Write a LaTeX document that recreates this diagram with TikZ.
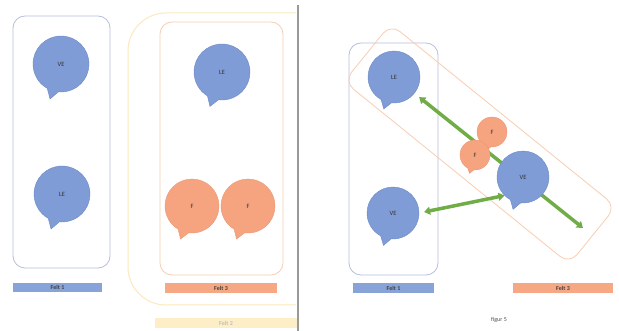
\documentclass[tikz,border=0pt]{standalone}
\usepackage{fontspec}
\setmainfont{Carlito}
\usetikzlibrary{shapes.callouts,arrows.meta}
\definecolor{bfill}{RGB}{128,156,214}
\definecolor{bdraw}{RGB}{110,138,200}
\definecolor{ofill}{RGB}{246,164,128}
\definecolor{odraw}{RGB}{236,150,115}
\definecolor{bline}{RGB}{182,192,222}
\definecolor{oline}{RGB}{248,205,178}
\definecolor{yline}{RGB}{252,234,190}
\definecolor{yfill}{RGB}{253,238,200}
\definecolor{gline}{RGB}{112,173,71}
\definecolor{lblue}{RGB}{135,163,216}
\definecolor{lorange}{RGB}{246,168,132}
\tikzset{
  bubble/.style={ellipse callout, minimum size=#1, inner sep=0pt, callout pointer arc=24,
    font=\fontsize{6.5}{7}\selectfont, text=black!80},
  bluebub/.style={bubble=#1, fill=bfill, draw=bdraw, line width=0.4pt},
  orbub/.style={bubble=#1, fill=ofill, draw=odraw, line width=0.4pt},
  panel/.style={draw=#1, line width=0.8pt, rounded corners=12pt, inner sep=0pt},
  felt/.style={fill=#1, inner sep=0pt, font=\fontsize{6}{6}\selectfont\bfseries, text=black!75},
  garrow/.style={draw=gline, line width=3.5pt, {Triangle[width=8pt,length=6pt]}-{Triangle[width=8pt,length=6pt]}}
}
\begin{document}
\begin{tikzpicture}[x=1pt,y=-1pt]
\useasboundingbox (0,0) rectangle (619,331);
\fill[white] (0,0) rectangle (619,331);
% separator
\draw[black!40, line width=1.2pt] (298,5) -- (298,331);
% ---------- left panel ----------
\begin{scope}
  \clip (110,0) rectangle (296,331);
  \draw[yline, line width=1pt, rounded corners=38pt] (128,13) rectangle (340,305);
\end{scope}
\node[panel=bline, minimum width=97pt, minimum height=252pt] (box1) at (61.5,142) {};
\node[panel=oline, minimum width=123pt, minimum height=253pt] (box3) at (221.5,148.5) {};
\node[bluebub=56pt, callout relative pointer={(-2.6pt,-8.3pt)}] (ve1) at (61,64) {VE};
\node[bluebub=56pt, callout relative pointer={(-2.6pt,-8.3pt)}] (le1) at (62,194) {LE};
\node[bluebub=56pt, callout relative pointer={(-2.8pt,-8pt)}] (le3) at (222,72) {LE};
\node[orbub=54pt, callout relative pointer={(-2.6pt,-7.5pt)}] (f1) at (192,206) {F};
\node[orbub=54pt, callout relative pointer={(-2.6pt,-7.5pt)}] (f2) at (248,206) {F};
\node[felt=lblue, minimum width=89pt, minimum height=9pt] (lab1) at (57.5,287.5) {Felt 1};
\node[felt=lorange, minimum width=112pt, minimum height=10pt] (lab3) at (221,288.5) {Felt 3};
\node[felt=yfill, minimum width=142pt, minimum height=10pt, text=black!25] (lab2) at (226,323) {Felt 2};
% ---------- right panel ----------
\node[panel=bline, minimum width=89pt, minimum height=232pt] (rbox1) at (393.5,159) {};
\node[panel=oline, minimum width=290pt, minimum height=74pt, rotate=-39] (rbox3) at (480,144) {};
\coordinate (a1e) at (583,228);
\node[bluebub=52pt, callout relative pointer={(-2.3pt,-7.2pt)}] (leR) at (394,77) {LE};
\node[bluebub=52pt, callout relative pointer={(-2.2pt,-7.5pt)}] (veL) at (393,213) {VE};
\draw[garrow, shorten <=6pt] (leR) -- (a1e);
\node[orbub=30pt, callout relative pointer={(-1.2pt,-4pt)}] (fa) at (492,132) {F};
\node[orbub=30pt, callout relative pointer={(-1.2pt,-4pt)}] (fb) at (475,155) {F};
\node[bluebub=52pt, callout relative pointer={(-2.3pt,-7.5pt)}] (veR) at (523,177) {VE};
\draw[garrow, shorten <=5pt] (veL.east) -- (veR.south west);
\node[felt=lblue, minimum width=81pt, minimum height=10pt] (rlab1) at (393.5,288) {Felt 1};
\node[felt=lorange, minimum width=100pt, minimum height=10pt] (rlab3) at (563,288) {Felt 3};
\node[font=\fontsize{6}{6}\selectfont, text=black!70] (fig) at (499,320) {figur 5};
\end{tikzpicture}
\end{document}
